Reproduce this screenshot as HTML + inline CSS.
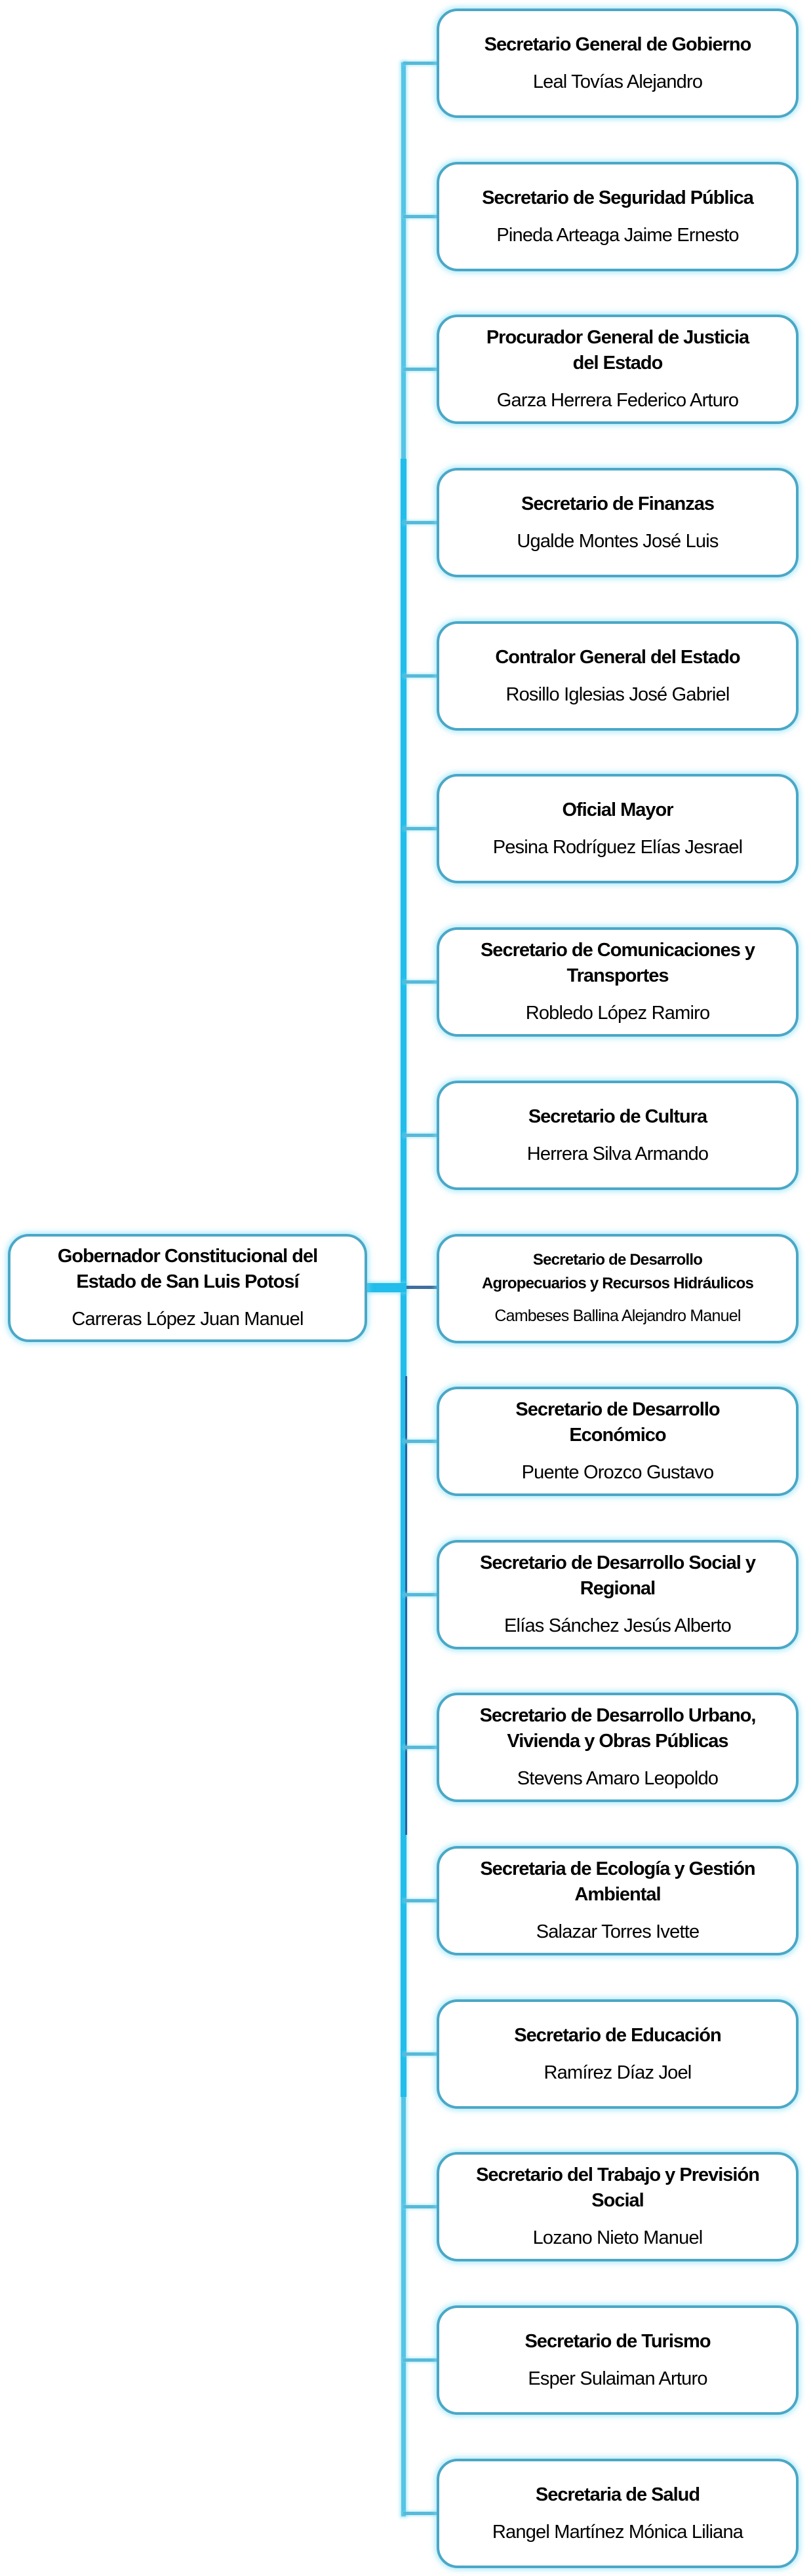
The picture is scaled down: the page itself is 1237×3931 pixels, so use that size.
<!DOCTYPE html>
<html><head><meta charset="utf-8"><style>
html,body{margin:0;padding:0;background:#fff}
body{width:1237px;height:3931px;position:relative;overflow:hidden;font-family:"Liberation Sans",sans-serif;color:#000}
.b{position:absolute;box-sizing:border-box;border:4px solid #4ba7c6;border-radius:32px;background:#fff;box-shadow:0 0 8px 3px rgba(120,220,245,.55);display:flex;flex-direction:column;align-items:center;justify-content:center;text-align:center}
.r{left:666px;width:552px;height:167px}
.t{font-weight:bold;font-size:29px;line-height:39px;letter-spacing:-1px}
.n{font-size:29px;line-height:39px;margin-top:18px;letter-spacing:-0.8px}
.s .t{font-size:24px;line-height:36px;letter-spacing:-0.8px}
.s .n{font-size:25px;margin-top:12px}
.h{position:absolute;left:615px;width:52px;height:5px;background:#58b9d8;box-shadow:0 0 4px 1px rgba(120,220,245,.6)}
</style></head><body>
<div style="position:absolute;left:612px;top:95px;width:7px;height:3745px;background:#55c4e6;box-shadow:0 0 5px 2px rgba(120,220,245,.6)"></div>
<div style="position:absolute;left:611px;top:700px;width:9px;height:2500px;background:#22bdea"></div>
<div style="position:absolute;left:618px;top:2100px;width:3px;height:700px;background:#2a5f9a"></div>
<div style="position:absolute;left:560px;top:1958px;width:60px;height:14px;background:#22bdea;box-shadow:0 0 5px 2px rgba(120,220,245,.6)"></div>
<div style="position:absolute;left:620px;top:1962px;width:48px;height:5px;background:#3f6f9e"></div>

<div class="b" style="left:12px;top:1883px;width:548px;height:165px"><div class="t">Gobernador Constitucional del<br>Estado de San Luis Potosí</div><div class="n">Carreras López Juan Manuel</div></div>

<div class="h" style="top:94px"></div>
<div class="b r" style="top:13px"><div class="t">Secretario General de Gobierno</div><div class="n">Leal Tovías Alejandro</div></div>
<div class="h" style="top:328px"></div>
<div class="b r" style="top:247px"><div class="t">Secretario de Seguridad Pública</div><div class="n">Pineda Arteaga Jaime Ernesto</div></div>
<div class="h" style="top:561px"></div>
<div class="b r" style="top:480px"><div class="t">Procurador General de Justicia<br>del Estado</div><div class="n">Garza Herrera Federico Arturo</div></div>
<div class="h" style="top:795px"></div>
<div class="b r" style="top:714px"><div class="t">Secretario de Finanzas</div><div class="n">Ugalde Montes José Luis</div></div>
<div class="h" style="top:1029px"></div>
<div class="b r" style="top:948px"><div class="t">Contralor General del Estado</div><div class="n">Rosillo Iglesias José Gabriel</div></div>
<div class="h" style="top:1262px"></div>
<div class="b r" style="top:1181px"><div class="t">Oficial Mayor</div><div class="n">Pesina Rodríguez Elías Jesrael</div></div>
<div class="h" style="top:1496px"></div>
<div class="b r" style="top:1415px"><div class="t">Secretario de Comunicaciones y<br>Transportes</div><div class="n">Robledo López Ramiro</div></div>
<div class="h" style="top:1730px"></div>
<div class="b r" style="top:1649px"><div class="t">Secretario de Cultura</div><div class="n">Herrera Silva Armando</div></div>
<div class="b r s" style="top:1883px"><div class="t">Secretario de Desarrollo<br>Agropecuarios y Recursos Hidráulicos</div><div class="n">Cambeses Ballina Alejandro Manuel</div></div>
<div class="h" style="top:2197px"></div>
<div class="b r" style="top:2116px"><div class="t">Secretario de Desarrollo<br>Económico</div><div class="n">Puente Orozco Gustavo</div></div>
<div class="h" style="top:2431px"></div>
<div class="b r" style="top:2350px"><div class="t">Secretario de Desarrollo Social y<br>Regional</div><div class="n">Elías Sánchez Jesús Alberto</div></div>
<div class="h" style="top:2664px"></div>
<div class="b r" style="top:2583px"><div class="t">Secretario de Desarrollo Urbano,<br>Vivienda y Obras Públicas</div><div class="n">Stevens Amaro Leopoldo</div></div>
<div class="h" style="top:2898px"></div>
<div class="b r" style="top:2817px"><div class="t">Secretaria de Ecología y Gestión<br>Ambiental</div><div class="n">Salazar Torres Ivette</div></div>
<div class="h" style="top:3132px"></div>
<div class="b r" style="top:3051px"><div class="t">Secretario de Educación</div><div class="n">Ramírez Díaz Joel</div></div>
<div class="h" style="top:3365px"></div>
<div class="b r" style="top:3284px"><div class="t">Secretario del Trabajo y Previsión<br>Social</div><div class="n">Lozano Nieto Manuel</div></div>
<div class="h" style="top:3599px"></div>
<div class="b r" style="top:3518px"><div class="t">Secretario de Turismo</div><div class="n">Esper Sulaiman Arturo</div></div>
<div class="h" style="top:3833px"></div>
<div class="b r" style="top:3752px"><div class="t">Secretaria de Salud</div><div class="n">Rangel Martínez Mónica Liliana</div></div>
</body></html>
